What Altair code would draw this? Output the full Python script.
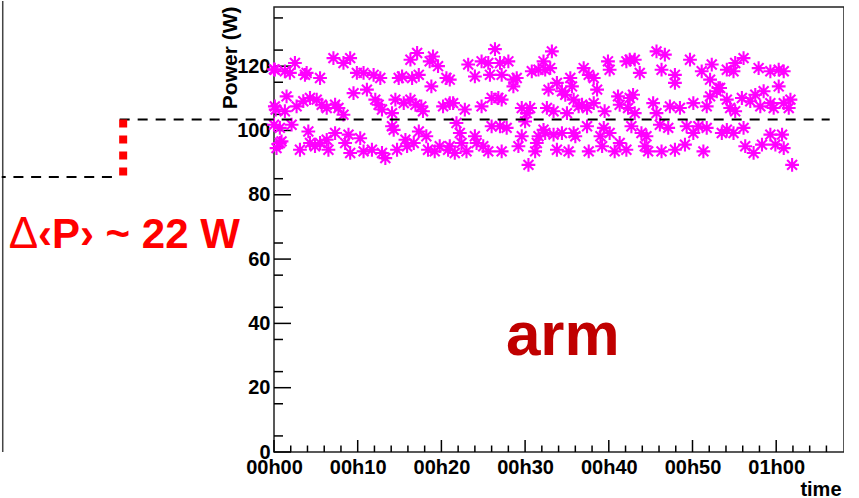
import altair as alt
import pandas as pd

# ---------------- data: minutes since start, power (W) ----------------
minutes_a = [0.1, 1.3, 1.9, 2.5, 3.7, 3.9, 5.5, 7.1, 8.3, 9.1, 9.9, 10.7, 11.9, 12.7, 14.9, 15.3, 16.5, 17.3,
             16.3, 17.1, 18.6, 19.0, 19.6, 18.8, 20.6,
             0.1, 1.5, 1.3, 2.7, 3.5, 4.3, 5.1, 5.7, 6.3, 7.3, 7.7, 8.3, 9.5, 11.1, 12.1, 12.5, 12.9, 14.1,
             14.5, 15.5, 16.3, 16.9, 17.6, 17.8, 20.2, 21.0,
             0.0, 0.7, 2.1, 0.7, 3.1, 4.1, 4.3, 4.9, 5.5, 6.3, 6.5, 7.3, 8.5, 8.9, 9.1, 10.3, 10.7, 11.7,
             12.9, 13.3, 14.1, 14.3, 14.7, 15.7, 15.9, 16.7, 17.3, 18.2, 18.4, 19.2, 19.8, 20.8,
             0.3, 0.9, 0.0, 0.2]
power_a = [118.9, 118.4, 117.9, 121.0, 117.3, 117.9, 116.3, 122.5, 121.0, 122.5, 117.9, 117.9, 117.3, 116.3,
           116.3, 116.8, 116.3, 117.3, 122.0, 124.1, 121.5, 123.0, 120.0, 113.7, 116.3,
           107.5, 110.6, 106.0, 107.5, 109.1, 110.1, 109.6, 108.0, 107.0, 108.0, 107.0, 104.9, 111.6, 112.7,
           109.6, 108.0, 106.5, 105.4, 109.6, 108.5, 109.6, 108.0, 107.5, 106.0, 107.5, 108.5,
           101.8, 100.8, 101.8, 96.1, 94.0, 99.7, 96.1, 95.1, 96.1, 97.1, 94.0, 99.2, 96.1, 98.7, 93.0, 97.6,
           93.5, 94.0, 93.0, 91.4, 101.3, 100.2, 94.0, 97.1, 95.1, 96.1, 99.7, 98.2, 94.0, 93.5, 95.1, 94.0,
           94.5, 96.6, 119.0, 106.5]

minutes_b = [21.0, 23.2, 24.0, 24.8, 25.6, 25.8, 26.4, 27.0, 28.0, 27.2, 28.6, 29.0, 28.6, 30.8, 31.6, 32.2,
             32.4, 33.2, 33.0, 37.0, 37.6, 38.2, 38.6, 39.9, 40.1, 42.1,
             21.4, 22.8, 24.8, 26.0, 26.8, 27.2, 29.6, 30.6, 30.2, 32.8, 33.8, 34.4, 34.8, 35.4, 35.6, 35.8,
             32.6, 33.4, 35.0, 36.4, 36.8, 37.4, 38.2, 39.5, 41.1, 41.3, 42.3,
             21.8, 22.2, 22.4, 21.0, 21.6, 23.0, 24.0, 24.2, 25.0, 25.6, 26.0, 27.0, 27.8, 27.2, 29.2, 29.6,
             30.0, 30.4, 31.2, 31.4, 31.6, 32.2, 32.4, 33.4, 33.8, 34.4, 35.2, 35.8, 36.0, 37.4, 37.6, 39.0,
             39.2, 39.4, 40.1, 40.7, 41.3, 42.1]
power_b = [115.8, 120.5, 116.8, 121.5, 121.0, 117.3, 125.3, 121.0, 121.5, 117.3, 115.8, 116.3, 113.7, 118.4,
           118.9, 121.5, 118.9, 124.6, 119.4, 119.4, 117.3, 116.3, 112.7, 121.5, 118.9, 121.5,
           108.5, 106.5, 107.5, 110.1, 110.1, 109.6, 107.0, 107.0, 105.4, 112.7, 114.8, 112.2, 111.1, 116.3,
           113.7, 109.6, 107.0, 106.0, 105.4, 107.5, 108.0, 107.0, 108.5, 106.0, 110.6, 108.0, 107.0,
           102.3, 99.2, 96.1, 95.1, 93.0, 93.5, 98.2, 96.1, 95.1, 93.5, 101.3, 101.3, 100.8, 93.5, 95.1, 98.2,
           102.8, 89.3, 93.5, 96.1, 98.2, 100.2, 99.2, 98.7, 94.0, 99.2, 93.5, 99.2, 98.2, 101.3, 93.5, 98.2,
           95.1, 100.8, 99.2, 93.5, 96.1, 94.0]

minutes_c = [42.5, 43.1, 43.7, 45.7, 46.7, 46.3, 47.9, 47.9, 49.7, 51.1, 52.3, 52.1, 54.1, 55.1, 56.1, 54.9,
             57.9, 59.3, 60.3, 60.9, 60.3, 53.1,
             42.9, 42.5, 43.1, 45.3, 45.7, 47.3, 48.5, 50.1, 51.7, 52.1, 52.9, 53.3, 54.1, 54.5, 55.1, 55.9,
             56.9, 57.5, 58.1, 58.5, 59.3, 59.7, 60.9, 61.7, 61.5,
             42.7, 43.9, 44.5, 44.3, 44.7, 46.1, 47.1, 46.3, 47.9, 49.1, 49.3, 50.1, 50.7, 51.3, 51.7, 53.5,
             54.1, 54.9, 56.1, 56.3, 57.3, 58.3, 59.3, 59.9, 60.7, 60.9, 61.9]
power_c = [122.0, 122.0, 117.9, 124.6, 123.6, 118.9, 117.3, 114.8, 122.0, 118.4, 120.5, 115.8, 118.9, 121.0,
           122.5, 118.4, 119.4, 118.4, 118.9, 118.4, 113.7, 113.2,
           111.1, 110.1, 105.4, 108.5, 105.4, 107.5, 107.0, 108.5, 107.5, 110.6, 112.2, 113.2, 109.6, 107.0,
           106.0, 110.1, 109.1, 111.1, 107.5, 112.2, 108.5, 107.0, 108.5, 109.6, 107.0,
           101.3, 99.2, 98.2, 95.1, 93.5, 101.8, 100.8, 93.5, 94.0, 95.6, 101.3, 99.2, 101.3, 93.5, 100.8,
           99.2, 100.2, 99.2, 100.8, 95.1, 93.0, 95.6, 98.7, 95.6, 98.7, 94.5, 89.3]

x_major = [0, 10, 20, 30, 40, 50, 60]
x_minor = [2, 4, 6, 8, 12, 14, 16, 18, 22, 24, 26, 28, 32, 34, 36, 38, 42, 44, 46, 48,
           52, 54, 56, 58, 62, 64, 66]
y_major = [0, 20, 40, 60, 80, 100, 120]
y_minor = [5, 15, 25, 35, 45, 55, 65, 75, 85, 95, 105, 115, 125, 135]

mean_before = 85.5
mean_after = 103.4
delta_symbol = "Δ"
delta_text = "‹P› ~ 22 W"
arch_label = "arm"
x_title = "time"
y_title = "Power (W)"

# ---------------- layout constants ----------------
FONT = "Liberation Sans"
W, H = 570, 445
X_MAX, Y_MAX = 68.1, 138.4
MAGENTA = "#ff00ff"
ASTERISK = "M-1,0L1,0M0,-1L0,1M-0.72,-0.72L0.72,0.72M-0.72,0.72L0.72,-0.72"

# annotation anchor positions (in data units, outside the frame on the left)
LEFT_EDGE = -32.53
LEFT_BAR = -32.41
STEP_X = -18.02
OLD_END = -19.33
NEW_START = -18.44
NEW_END = 66.39
TOP_Y = 140.27
TXT_Y = 63.4
DELTA_X = -31.7
DELTA_TXT_X = -28.2
ARCH_X, ARCH_Y = 34.5, 30.3

xscale = alt.Scale(domain=[0, X_MAX], nice=False, zero=False)
yscale = alt.Scale(domain=[0, Y_MAX], nice=False, zero=False)

label_expr = ("(datum.value < 600 ? '0' : '') + floor(datum.value / 60) + 'h' + "
              "(datum.value % 60 < 10 ? '0' : '') + (datum.value % 60)")

xaxis = alt.Axis(values=x_major, labelExpr=label_expr, ticks=False, tickSize=0, domain=False, grid=False,
                 labelFont=FONT, labelFontSize=20, labelFontWeight="bold", labelColor="black",
                 labelBaseline="alphabetic", labelPadding=21, labelFlush=False, labelOverlap=False,
                 title=x_title, titleFont=FONT, titleFontSize=20, titleFontWeight="bold", titleColor="black",
                 titleAlign="right", titleBaseline="alphabetic", titleAnchor="end", titleX=567, titleY=43)
yaxis = alt.Axis(values=y_major, ticks=False, tickSize=0, domain=False, grid=False,
                 labelFont=FONT, labelFontSize=20, labelFontWeight="bold", labelColor="black",
                 labelBaseline="middle", labelAlign="right", labelPadding=4, labelFlush=False,
                 labelOverlap=False,
                 title=y_title, titleFont=FONT, titleFontSize=21, titleFontWeight="bold", titleColor="black",
                 titleAngle=270, titleAlign="right", titleBaseline="alphabetic", titleAnchor="end",
                 titleX=-37.5, titleY=-1)


def X(field):
    return alt.X(field, type="quantitative", scale=xscale, axis=xaxis)


def Y(field):
    return alt.Y(field, type="quantitative", scale=yscale, axis=yaxis)


pts = pd.DataFrame({"min": minutes_a + minutes_b + minutes_c,
                    "watt": power_a + power_b + power_c})

points = alt.Chart(pts).mark_point(shape=ASTERISK, filled=False, size=190, strokeWidth=2.1,
                                   color=MAGENTA, opacity=1).encode(x=X("min"), y=Y("watt"))

xmaj = alt.Chart(pd.DataFrame({"t": x_major})).mark_rule(color="black", strokeWidth=1.5).encode(
    x=X("t"), y=alt.value(H), y2=alt.value(H - 12))
xmin = alt.Chart(pd.DataFrame({"t": x_minor})).mark_rule(color="black", strokeWidth=1.5).encode(
    x=X("t"), y=alt.value(H), y2=alt.value(H - 6.5))
ymaj = alt.Chart(pd.DataFrame({"v": y_major})).mark_rule(color="black", strokeWidth=1.5).encode(
    y=Y("v"), x=alt.value(0), x2=alt.value(17))
ymin = alt.Chart(pd.DataFrame({"v": y_minor})).mark_rule(color="black", strokeWidth=1.5).encode(
    y=Y("v"), x=alt.value(0), x2=alt.value(9))

bar = alt.Chart(pd.DataFrame({"x": [LEFT_BAR], "y": [0], "y2": [TOP_Y]})).mark_rule(
    color="#444444", strokeWidth=1.5).encode(x=X("x"), y=Y("y"), y2="y2")

old_mean = alt.Chart(pd.DataFrame({"x": [LEFT_EDGE], "x2": [OLD_END], "y": [mean_before]})).mark_rule(
    color="black", strokeWidth=2, strokeDash=[10, 7.7], strokeDashOffset=6).encode(
    x=X("x"), x2="x2", y=Y("y"))
new_mean = alt.Chart(pd.DataFrame({"x": [NEW_START], "x2": [NEW_END], "y": [mean_after]})).mark_rule(
    color="black", strokeWidth=2, strokeDash=[10, 8]).encode(x=X("x"), x2="x2", y=Y("y"))
step = alt.Chart(pd.DataFrame({"x": [STEP_X], "y": [mean_after], "y2": [mean_before]})).mark_rule(
    color="red", strokeWidth=8, strokeDash=[8, 8]).encode(x=X("x"), y=Y("y"), y2="y2")

t_sym = alt.Chart(pd.DataFrame({"x": [DELTA_X], "y": [TXT_Y], "s": [delta_symbol]})).mark_text(
    align="left", baseline="alphabetic", font=FONT, fontSize=44, fontWeight="normal", color="red").encode(
    x=X("x"), y=Y("y"), text="s")
t_delta = alt.Chart(pd.DataFrame({"x": [DELTA_TXT_X], "y": [TXT_Y], "s": [delta_text]})).mark_text(
    align="left", baseline="alphabetic", font=FONT, fontSize=42, fontWeight="bold", color="red").encode(
    x=X("x"), y=Y("y"), text="s")
t_arch = alt.Chart(pd.DataFrame({"x": [ARCH_X], "y": [ARCH_Y], "s": [arch_label]})).mark_text(
    align="center", baseline="alphabetic", font=FONT, fontSize=62, fontWeight="bold", color="#c00000").encode(
    x=X("x"), y=Y("y"), text="s")

chart = alt.layer(xmaj, xmin, ymaj, ymin, points, bar, old_mean, new_mean, step, t_sym, t_delta, t_arch).properties(
    width=W, height=H, padding=0, background="white"
).configure_view(stroke="#222222", strokeWidth=1.5)

chart.save("out.html", embed_options={"renderer": "svg", "actions": False})
